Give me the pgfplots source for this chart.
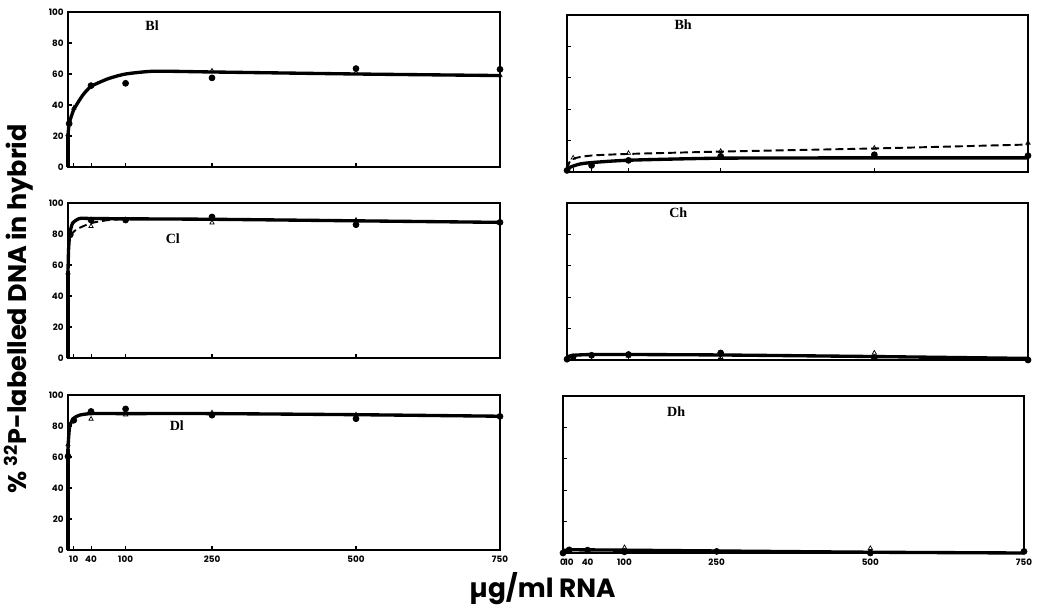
\documentclass[border=0pt]{standalone}
\usepackage{pgfplots}
\pgfplotsset{compat=1.18}
\usepackage{fontspec}
\setmainfont{Poppins}
\newfontfamily\serf{Liberation Serif}

\begin{document}
\begin{tikzpicture}
\useasboundingbox (0,0) rectangle (20.94,12.18);

\tikzset{lab/.style={font=\serf\bfseries\fontsize{8}{9}\selectfont}}
\pgfplotsset{
panel/.style={
scale only axis,
xmin=0, xmax=750,
ymin=0, ymax=100,
clip=false,
axis line style={line width=0.6pt},
tick style={line width=0.6pt, black},
major tick length=0.08cm,
xtick={10,40,100,250,500},
xticklabels={},
ytick={0,20,40,60,80,100},
xtick pos=bottom,
ytick pos=left,
tick align=inside,
/pgf/number format/assume math mode=true,
ticklabel style={font=\fontsize{5}{6}\selectfont\bfseries},
yticklabel style={xshift=1pt},
},
lpanel/.style={panel, width=8.64cm, height=3.1cm},
rpanel/.style={panel, width=9.22cm, height=3.14cm, yticklabels={}},
fit/.style={line width=1.9pt, black, smooth, tension=0.35},
vert/.style={line width=1.9pt, black},
dsh/.style={line width=1.1pt, black, dash pattern=on 4.5pt off 2.3pt, smooth, tension=0.4},
circ/.style={only marks, mark=*, mark size=1.7pt, black},
tri/.style={only marks, mark=triangle, mark size=1.4pt, black, mark options={line width=0.4pt, fill=white}},
}

% Bl
\begin{axis}[lpanel, at={(1.36cm,8.84cm)}, anchor=south west]
\addplot[vert] coordinates {(0,0)(0,20)};
\addplot[fit] coordinates {(0,20)(2,28)(10,37)(25,46)(40,52)(70,57)(100,60)(150,61.8)(250,61.3)(500,60)(750,59)};
\addplot[circ] coordinates {(2,28)(40,52.5)(100,54)(250,57.5)(500,63.5)(750,63)};
\addplot[tri] coordinates {(0,21)(10,38)(250,62)(500,61)(750,59)};
\node[lab] at (axis cs:146,91) {Bl};
\end{axis}

% Bh
\begin{axis}[rpanel, at={(11.34cm,8.74cm)}, anchor=south west]
\addplot[fit] coordinates {(0,0.5)(5,3)(20,5)(40,6)(100,7.5)(250,8.8)(500,9)(750,9)};
\addplot[dsh] coordinates {(0,2)(5,7)(15,9)(40,10.5)(100,11.5)(250,13)(500,15)(750,17.5)};
\addplot[circ] coordinates {(0,1)(40,4.2)(100,7.4)(250,10)(500,11)(750,10.4)};
\addplot[tri] coordinates {(10,9)(100,12)(250,13.2)(500,15.3)(750,18.5)};
\node[lab] at (axis cs:189,94) {Bh};
\end{axis}

% Cl
\begin{axis}[lpanel, at={(1.36cm,5.02cm)}, anchor=south west]
\addplot[vert] coordinates {(0,0)(0,56)};
\addplot[fit] coordinates {(0,56)(1,70)(3,80)(8,87)(20,90)(40,90)(100,89.8)(250,89.5)(500,88.5)(750,87.5)};
\addplot[dsh] coordinates {(4,79)(15,83)(40,87)(70,89)(100,89.5)};
\addplot[circ] coordinates {(4,79.5)(40,89)(100,89)(250,91)(500,86)(750,87.5)};
\addplot[tri] coordinates {(0,55)(40,85)(250,87.3)(500,89)};
\node[lab] at (axis cs:182,77) {Cl};
\end{axis}

% Ch
\begin{axis}[rpanel, at={(11.34cm,4.98cm)}, anchor=south west]
\addplot[fit] coordinates {(0,2)(10,3)(40,3.5)(100,3.5)(250,3.2)(500,2.2)(750,1)};
\addplot[circ] coordinates {(0,0.5)(10,2)(40,3)(100,3.5)(250,4.5)(500,1.5)(750,0)};
\addplot[tri] coordinates {(0,1.5)(10,1)(100,2.5)(250,1.8)(500,4.5)(750,1)};
\node[lab] at (axis cs:181,94) {Ch};
\end{axis}

% Dl
\begin{axis}[lpanel, at={(1.36cm,1.18cm)}, anchor=south west,
xtick={10,40,100,250,500,750}, xticklabels={10,40,100,250,500,750}]
\addplot[vert] coordinates {(0,0)(0,65)};
\addplot[fit] coordinates {(0,65)(1,72)(3,80)(10,85)(20,87)(40,88)(100,88)(250,88)(500,87.3)(750,86.3)};
\addplot[circ] coordinates {(0,60.4)(10,83.7)(40,89.4)(100,91)(250,87)(500,84.7)(750,86.2)};
\addplot[tri] coordinates {(0,68)(10,84)(40,84.5)(100,87.3)(250,88.6)(500,87.3)};
\node[lab] at (axis cs:189,80) {Dl};
\end{axis}

% Dh
\begin{axis}[rpanel, at={(11.26cm,1.12cm)}, anchor=south west,
xtick={0,10,40,100,250,500,750}, xticklabels={0,10,40,100,250,500,750}]
\addplot[fit] coordinates {(0,1.5)(10,2)(40,2)(100,1.8)(250,1.3)(500,0.5)(750,0)};
\addplot[circ] coordinates {(0,0)(10,2)(40,1.8)(100,0.8)(250,1)(500,0)(750,1)};
\addplot[tri] coordinates {(100,3.5)(500,3)};
\node[lab] at (axis cs:184,90) {Dh};
\end{axis}

\node[rotate=90, font=\bfseries\fontsize{14.5}{16}\selectfont] at (0.38,6.0) {\% \textsuperscript{32}P-labelled DNA in hybrid};
\node[font=\bfseries\fontsize{15}{17}\selectfont] at (10.85,0.4) {µg/ml RNA};
\end{tikzpicture}
\end{document}
